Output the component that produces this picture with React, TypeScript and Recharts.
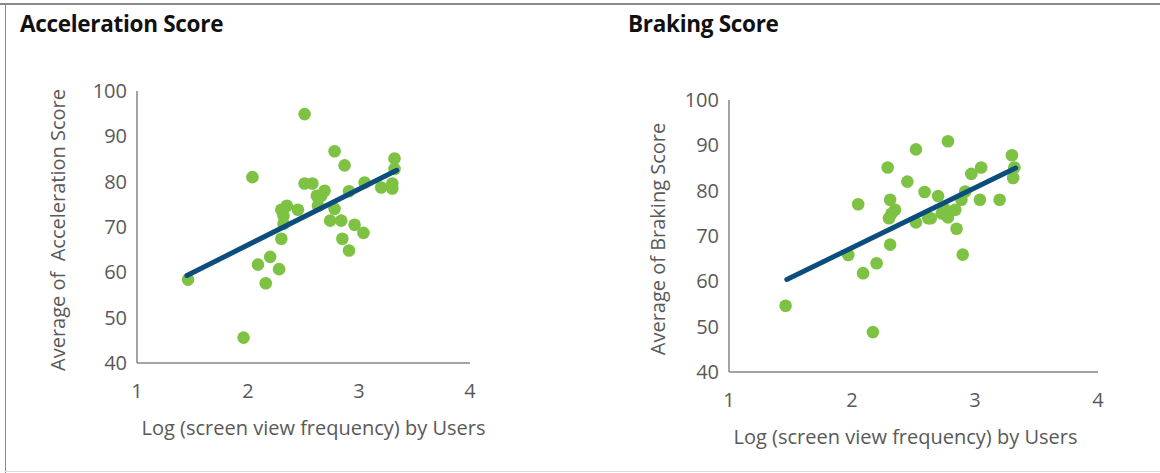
import React from 'react';
import { ScatterChart, Scatter, XAxis, YAxis, Label } from 'recharts';

const xTicks = [1, 2, 3, 4];
const yTicks = [40, 50, 60, 70, 80, 90, 100];

const accelX = [1.46, 2.51, 2.78, 2.87, 3.32, 3.32, 2.04, 2.51, 2.58, 3.05, 3.2, 3.3, 3.3, 2.91, 2.69, 2.66, 2.62, 2.63, 2.78, 2.45, 2.35, 2.3, 2.32, 2.32, 2.74, 2.84, 2.96, 3.04, 2.3, 2.85, 2.91, 2.2, 2.09, 2.28, 2.16, 1.96];
const accelY = [58.4, 94.9, 86.7, 83.6, 85.1, 82.8, 81.0, 79.6, 79.6, 79.8, 78.7, 79.6, 78.5, 77.9, 78.0, 76.9, 76.9, 74.7, 74.0, 73.8, 74.7, 73.8, 72.5, 70.7, 71.4, 71.4, 70.5, 68.7, 67.4, 67.4, 64.8, 63.4, 61.7, 60.7, 57.6, 45.6];
const accelTrend = [
  { x: 1.45, y: 59.3 },
  { x: 3.34, y: 82.5 },
];

const brakeX = [1.46, 2.17, 2.78, 2.52, 2.29, 3.3, 3.32, 3.31, 3.05, 2.97, 2.45, 2.59, 2.7, 2.92, 2.89, 3.04, 3.2, 2.31, 2.05, 2.35, 2.32, 2.3, 2.52, 2.62, 2.64, 2.73, 2.78, 2.84, 2.75, 2.85, 2.31, 1.97, 2.2, 2.09, 2.9];
const brakeY = [54.6, 48.8, 90.9, 89.1, 85.1, 87.8, 85.1, 82.8, 85.1, 83.7, 82.0, 79.7, 78.8, 79.8, 78.0, 78.0, 78.0, 78.0, 77.0, 75.8, 74.9, 73.9, 73.0, 73.9, 73.9, 75.0, 74.1, 75.8, 76.0, 71.6, 68.1, 65.8, 64.0, 61.8, 65.9];
const brakeTrend = [
  { x: 1.47, y: 60.4 },
  { x: 3.33, y: 85.0 },
];

const accelData = accelX.map((x, i) => ({ x, y: accelY[i] }));
const brakeData = brakeX.map((x, i) => ({ x, y: brakeY[i] }));

const FONT = '"Open Sans", sans-serif';
const TEXT = '#595959';
const AXIS = '#868686';
const GREEN = '#7dc242';
const BLUE = '#0b4d7c';

const tickStyle = { fontSize: 20, fill: TEXT, fontFamily: FONT };

function Dot(props: any) {
  return <circle cx={props.cx} cy={props.cy} r={6.3} fill={GREEN} />;
}

function NoDot() {
  return <g />;
}

interface PanelProps {
  left: number;
  titleLeft: number;
  title: string;
  yLabel: string;
  data: { x: number; y: number }[];
  trend: { x: number; y: number }[];
  yAxisWidth: number;
  yLabelX: number;
  xLabelDx: number;
  top: number;
  right: number;
  bottom: number;
}

function Panel(p: PanelProps) {
  return (
    <div style={{ position: 'absolute', left: p.left, top: 0, width: 580, height: 473 }}>
      <div
        style={{
          position: 'absolute',
          left: p.titleLeft,
          top: 8,
          fontFamily: FONT,
          fontWeight: 700,
          fontSize: 22.5,
          letterSpacing: -0.3,
          color: '#111',
        }}
      >
        {p.title}
      </div>
      <ScatterChart width={580} height={473} margin={{ top: p.top, right: p.right, bottom: p.bottom, left: 0 }}>
        <XAxis
          type="number"
          dataKey="x"
          domain={[1, 4]}
          ticks={xTicks}
          tickLine={false}
          tickSize={0}
          tickMargin={21}
          height={30}
          stroke={AXIS}
          strokeWidth={1.5}
          tick={tickStyle}
        >
          <Label
            content={(lp: any) => {
              const vb = lp.viewBox;
              return (
                <text
                  x={vb.x + vb.width / 2 + p.xLabelDx}
                  y={vb.y + vb.height + 42}
                  textAnchor="middle"
                  fontSize={20}
                  fill={TEXT}
                  fontFamily={FONT}
                >
                  Log (screen view frequency) by Users
                </text>
              );
            }}
          />
        </XAxis>
        <YAxis
          type="number"
          dataKey="y"
          domain={[40, 100]}
          ticks={yTicks}
          tickLine={false}
          tickSize={0}
          tickMargin={10}
          width={p.yAxisWidth}
          stroke={AXIS}
          strokeWidth={1.5}
          tick={tickStyle}
        >
          <Label
            content={(lp: any) => {
              const vb = lp.viewBox;
              const cx = p.yLabelX;
              const cy = vb.y + vb.height / 2 + 3;
              return (
                <text
                  x={cx}
                  y={cy}
                  transform={`rotate(-90 ${cx} ${cy})`}
                  textAnchor="middle"
                  dominantBaseline="central"
                  fontSize={20}
                  fill={TEXT}
                  fontFamily={FONT}
                  style={{ whiteSpace: 'pre' }}
                >
                  {p.yLabel}
                </text>
              );
            }}
          />
        </YAxis>
        <Scatter data={p.data} shape={Dot} isAnimationActive={false} />
        <Scatter
          data={p.trend}
          shape={NoDot}
          line={{ stroke: BLUE, strokeWidth: 5, strokeLinecap: 'round' }}
          lineType="joint"
          isAnimationActive={false}
        />
      </ScatterChart>
    </div>
  );
}

export default function App() {
  return (
    <div
      style={{
        position: 'fixed',
        left: 0,
        top: 0,
        width: 1160,
        height: 473,
        background: '#fff',
        overflow: 'hidden',
      }}
    >
      <div style={{ position: 'absolute', left: 0, top: 3, width: 1160, height: 2, background: '#8a8a8a' }} />
      <div style={{ position: 'absolute', left: 5, top: 3, width: 1, height: 470, background: '#8a8a8a' }} />
      <div style={{ position: 'absolute', left: 5, top: 471, width: 1155, height: 1, background: '#d9d9d9' }} />
      <Panel
        left={0}
        titleLeft={20}
        title="Acceleration Score"
        yLabel="Average of  Acceleration Score"
        data={accelData}
        trend={accelTrend}
        yAxisWidth={137}
        yLabelX={57}
        xLabelDx={10}
        top={91}
        right={110}
        bottom={80}
      />
      <Panel
        left={580}
        titleLeft={48}
        title="Braking Score"
        yLabel="Average of Braking Score"
        data={brakeData}
        trend={brakeTrend}
        yAxisWidth={149}
        yLabelX={77}
        xLabelDx={-8}
        top={100}
        right={62}
        bottom={71}
      />
    </div>
  );
}
